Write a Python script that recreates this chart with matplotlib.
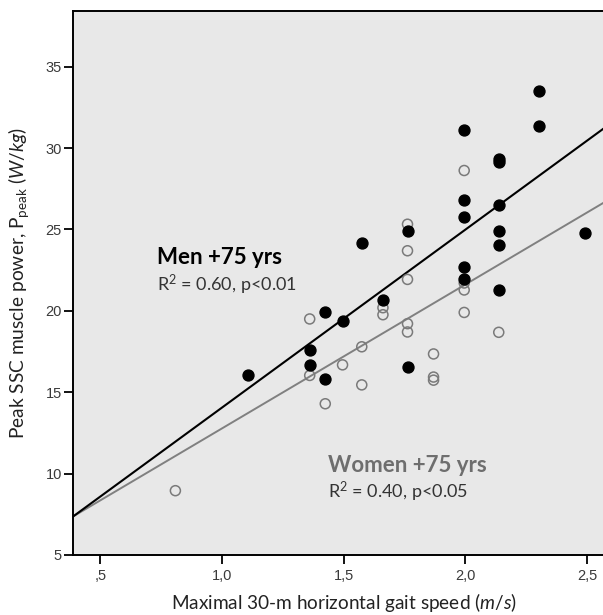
import matplotlib
matplotlib.use('Agg')
import matplotlib.pyplot as plt
import numpy as np

'''
Peak SSC muscle power against maximal 30-m gait speed, men and women +75 yrs.
'''

# Men +75 yrs (filled markers)
menSpeed = [1.107, 1.36, 1.36, 1.424, 1.424, 1.495, 1.574, 1.661, 1.762, 1.762,
            1.995, 1.995, 1.995, 1.995, 1.995, 2.137, 2.137, 2.137, 2.137,
            2.137, 2.137, 2.303, 2.303, 2.492]
menPower = [16.03, 17.62, 16.68, 19.90, 15.79, 19.40, 24.19, 20.65, 24.89, 16.53,
            31.10, 26.79, 25.78, 22.70, 21.98, 29.15, 29.35, 26.53, 24.89,
            24.05, 21.28, 33.53, 31.37, 24.77]

# Women +75 yrs (open markers)
womenSpeed = [0.808, 1.36, 1.36, 1.424, 1.495, 1.574, 1.574, 1.661, 1.661,
              1.762, 1.762, 1.762, 1.762, 1.762, 1.869, 1.869, 1.869,
              1.995, 1.995, 1.995, 1.995, 2.137]
womenPower = [8.95, 19.50, 16.03, 14.29, 16.68, 17.79, 15.45, 20.19, 19.76,
              25.32, 23.69, 21.93, 19.21, 18.70, 17.35, 15.93, 15.74,
              28.62, 21.71, 21.28, 19.90, 18.68]

# regression lines (intercept, slope)
menFit = [3.13, 10.93]
womenFit = [3.94, 8.84]

xTicks = [0.5, 1.0, 1.5, 2.0, 2.5]
xTickLabels = [',5', '1,0', '1,5', '2,0', '2,5']
yTicks = [5, 10, 15, 20, 25, 30, 35]

plt.rcParams['font.family'] = ['Liberation Sans', 'DejaVu Sans']
plt.rcParams['mathtext.fontset'] = 'custom'
plt.rcParams['mathtext.rm'] = 'Lato'
plt.rcParams['mathtext.it'] = 'Lato:italic'

fig = plt.figure(figsize=(6.03, 6.15), dpi=100)
axW = 0.901
axH = 0.884
ax = fig.add_axes([0.121, 0.0976, axW, axH])
ax.set_facecolor('#e8e8e8')

xLim = (0.387, 2.62)
ax.set_xlim(*xLim)
ax.set_ylim(5, 38.4)

lineX = np.array(xLim)
ax.plot(lineX, womenFit[0] + womenFit[1] * lineX, color='#808080', lw=1.4,
        zorder=2)
ax.plot(lineX, menFit[0] + menFit[1] * lineX, color='black', lw=1.5, zorder=2)

ax.scatter(womenSpeed, womenPower, s=52, facecolors='none',
           edgecolors='#7a7a7a', linewidths=1.1, zorder=3)
ax.scatter(menSpeed, menPower, s=62, color='black', zorder=4)

#
# Annotations
#
ax.text(0.733, 23.3, 'Men +75 yrs', fontfamily='Lato', fontweight='bold',
        fontsize=16, color='black', va='center')
ax.text(0.733, 21.6, 'R$^2$ = 0.60, p<0.01', fontfamily='Lato',
        fontsize=13, color='#333333', va='center')
ax.text(1.435, 10.5, 'Women +75 yrs', fontfamily='Lato', fontweight='bold',
        fontsize=16, color='#6e6e6e', va='center')
ax.text(1.435, 8.9, 'R$^2$ = 0.40, p<0.05', fontfamily='Lato',
        fontsize=13, color='#333333', va='center')

#
# Axes styling
#
ax.set_xticks(xTicks)
ax.set_xticklabels(xTickLabels)
ax.set_yticks(yTicks)
ax.tick_params(axis='both', direction='out', length=6.5, width=1.3,
               labelsize=10.5, labelcolor='#3a3a3a', color='black')
ax.tick_params(axis='x', pad=3.5)
ax.tick_params(axis='y', pad=1.5)
for side in ['left', 'bottom', 'top']:
    ax.spines[side].set_linewidth(1.4)
    ax.spines[side].set_color('black')
ax.spines['right'].set_visible(False)

ax.set_xlabel('Maximal 30-m horizontal gait speed ($\\it{m/s}$)',
              fontfamily='Lato', fontsize=13.7, color='#222222')
ax.set_ylabel('Peak SSC muscle power, P$_{\\rm peak}$ ($\\it{W/kg}$)',
              fontfamily='Lato', fontsize=13.8, color='#222222')
ax.xaxis.set_label_coords((344 - 73) / (axW * 603), -0.066)
ax.yaxis.set_label_coords(-(73 - 31) / (axW * 603),
                          (615 - 283 - 60) / (axH * 615))

fig.savefig('out.png', dpi=100)
